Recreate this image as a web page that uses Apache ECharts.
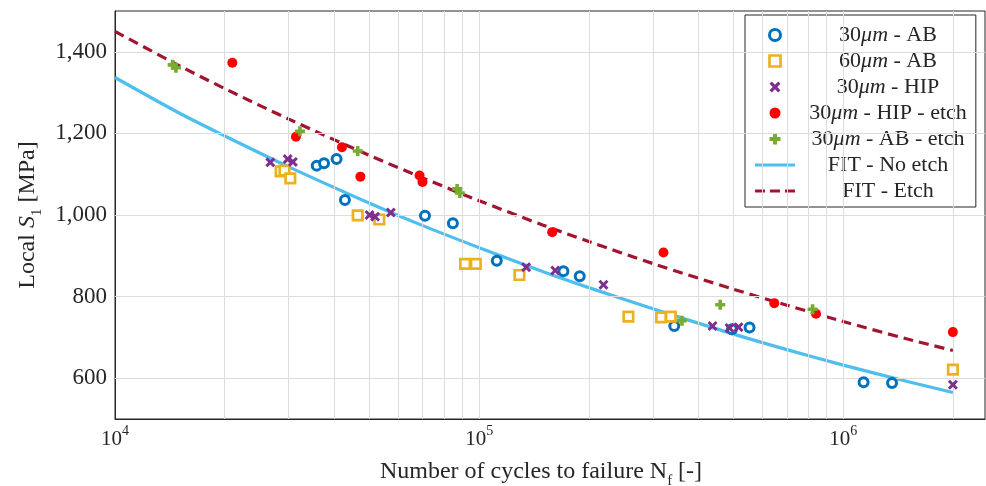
<!DOCTYPE html>
<html>
<head>
<meta charset="utf-8">
<script src="https://cdn.jsdelivr.net/npm/echarts@6/dist/echarts.min.js"></script>
<style>html,body{margin:0;padding:0;background:#fff}#c{width:986px;height:486px}</style>
</head>
<body>
<div id="c"></div>
<script>
// ---- data ----
const seriesNames = ['30μm - AB', '60μm - AB', '30μm - HIP', '30μm - HIP - etch', '30μm - AB - etch', 'FIT - No etch', 'FIT - Etch'];

const ab30N = [35800, 37500, 40600, 42800, 71000, 84700, 111800, 170400, 188900, 343400, 494600, 552800, 1137000, 1361000];
const ab30S = [1121, 1127, 1137, 1037, 998, 980, 888, 862, 850, 728, 720, 724, 590, 588];

const ab60N = [28500, 29200, 30300, 46400, 53200, 91500, 97900, 129000, 257000, 316000, 336000, 2000000];
const ab60S = [1107, 1109, 1090, 999, 989, 880, 880, 853, 751, 749, 751, 621];

const hip30N = [26700, 29800, 30800, 50000, 51800, 57200, 134600, 161800, 219500, 437500, 487100, 515700, 2000000];
const hip30S = [1129, 1137, 1130, 1000, 996, 1006, 872, 864, 829, 728, 723, 725, 584];

const hipEtchN = [21000, 31400, 42000, 47200, 68600, 69900, 158700, 320800, 646300, 841400, 2000000];
const hipEtchS = [1373, 1192, 1166, 1094, 1097, 1081, 958, 908, 784, 758, 713];

const abEtchN = [14400, 14700, 32200, 46400, 87000, 88500, 360500, 459200, 823600];
const abEtchS = [1368, 1361, 1205, 1157, 1064, 1054, 741, 780, 769];

const fitN = [10000, 15000, 20000, 30000, 50000, 70000, 100000, 150000, 200000, 300000, 500000, 700000, 1000000, 1500000, 2000000];
const fitNoEtchS = [1337, 1250, 1194, 1118, 1029, 974, 920, 861, 822, 770, 708, 670, 632, 592, 565];
const fitEtchS = [1450, 1366, 1310, 1235, 1146, 1091, 1035, 975, 935, 881, 818, 779, 739, 696, 668];

const xGridValues = [20000, 30000, 40000, 50000, 60000, 70000, 80000, 90000, 100000,
  200000, 300000, 400000, 500000, 600000, 700000, 800000, 900000, 1000000, 2000000];
const yGridValues = [600, 800, 1000, 1200, 1400];

// ---- styling ----
const FONT = 'Liberation Serif';
const TXT = '#262626';
const GRIDC = '#dcdcdc';
const plusPath = 'path://M3.2,0H6.8V3.2H10V6.8H6.8V10H3.2V6.8H0V3.2H3.2Z';
const xPath = 'path://M0,2.1L2.1,0L5,2.9L7.9,0L10,2.1L7.1,5L10,7.9L7.9,10L5,7.1L2.1,10L0,7.9L2.9,5Z';
const squarePath = 'path://M0,0H10V10H0Z';
const solidIcon = 'path://M0,0H40V3H0Z';
const dashIcon = 'path://M0,0H10V3H0Z M15,0H25V3H15Z M30,0H40V3H30Z';

function pairs(xs, ys) { return xs.map((x, i) => [x, ys[i]]); }

const chart = echarts.init(document.getElementById('c'), null, {renderer: 'canvas'});

const legendRichName = function (name) {
  const parts = name.split('μm');
  if (parts.length === 2) return '{n|' + parts[0] + '}{i|μm}{n|' + parts[1] + '}';
  return '{n|' + name + '}';
};

const legendIcons = ['circle', squarePath, xPath, 'circle', plusPath, solidIcon, dashIcon];
const legendItemStyles = [
  {color: '#ffffff', borderColor: '#0072bd', borderWidth: 3},
  {color: '#ffffff', borderColor: '#edb120', borderWidth: 2.7},
  null, null, null, null, null
];

const option = {
  animation: false,
  backgroundColor: '#fff',
  grid: {left: 115, top: 11, width: 870, height: 408, show: true, borderColor: TXT, borderWidth: 1,
    backgroundColor: 'transparent', containLabel: false, outerBoundsMode: 'none'},
  legend: {
    data: seriesNames.map((n, i) => {
      const d = {name: n, icon: legendIcons[i]};
      if (legendItemStyles[i]) d.itemStyle = legendItemStyles[i];
      return d;
    }),
    orient: 'vertical',
    left: 745, top: 15,
    padding: [9, 9, 5, 10],
    itemGap: 4,
    itemWidth: 40,
    itemHeight: 11,
    symbolKeepAspect: true,
    backgroundColor: '#fff',
    borderColor: TXT,
    borderWidth: 1,
    borderRadius: 0,
    formatter: legendRichName,
    textStyle: {
      color: TXT, fontFamily: FONT, fontSize: 22, width: 176,
      rich: {
        n: {align: 'center', fontFamily: FONT, fontSize: 22, lineHeight: 20, color: TXT},
        i: {align: 'center', fontFamily: FONT, fontStyle: 'italic', fontSize: 22, lineHeight: 20, color: TXT}
      }
    }
  },
  xAxis: {
    type: 'log', logBase: 10, min: 10000, max: 2450000,
    name: '{n|Number of cycles to failure N}{sub|f}{n| [-]}',
    nameLocation: 'middle', nameGap: 41,
    nameTextStyle: {
      color: TXT, fontFamily: FONT, fontSize: 24, padding: [0, 18, 0, 0],
      rich: {
        n: {fontFamily: FONT, fontSize: 24, lineHeight: 27, verticalAlign: 'top', color: TXT},
        sub: {fontFamily: FONT, fontSize: 15, lineHeight: 15, padding: [14, 0, 0, 0], verticalAlign: 'top', color: TXT}
      }
    },
    axisLine: {show: true, lineStyle: {color: TXT, width: 1}},
    axisTick: {show: false},
    splitLine: {show: false},
    minorTick: {show: false},
    axisLabel: {
      margin: 5, color: TXT, showMaxLabel: false,
      formatter: function (v) {
        const e = Math.log10(v);
        if (Math.abs(e - Math.round(e)) > 1e-6) return '';
        return '{b|10}{s|' + Math.round(e) + '}';
      },
      rich: {
        b: {fontFamily: FONT, fontSize: 21, lineHeight: 26, verticalAlign: 'bottom', color: TXT},
        s: {fontFamily: FONT, fontSize: 14, lineHeight: 14, verticalAlign: 'top', color: TXT}
      }
    }
  },
  yAxis: {
    type: 'value', min: 500, max: 1500, interval: 100,
    name: '{n|Local }{i|S}{sub|1}{n| [MPa]}',
    nameLocation: 'middle', nameGap: 72, nameRotate: 90,
    nameTextStyle: {
      color: TXT, fontFamily: FONT, fontSize: 24,
      rich: {
        n: {fontFamily: FONT, fontSize: 24, lineHeight: 27, verticalAlign: 'top', color: TXT},
        i: {fontFamily: FONT, fontStyle: 'italic', fontSize: 24, lineHeight: 27, verticalAlign: 'top', color: TXT},
        sub: {fontFamily: FONT, fontSize: 15, lineHeight: 15, padding: [14, 0, 0, 0], verticalAlign: 'top', color: TXT}
      }
    },
    axisLine: {show: true, lineStyle: {color: TXT, width: 1}},
    axisTick: {show: false},
    splitLine: {show: false},
    axisLabel: {
      margin: 8, color: TXT, fontFamily: FONT, fontSize: 23,
      formatter: function (v) { return (v % 200 === 0) ? v.toLocaleString('en-US') : ''; }
    }
  },
  series: [
    {
      type: 'line', name: '_grid', data: [], z: 0, silent: true,
      markLine: {
        silent: true, symbol: ['none', 'none'], animation: false,
        label: {show: false},
        lineStyle: {color: GRIDC, width: 1, type: 'solid'},
        emphasis: {disabled: true},
        data: xGridValues.map(v => ({xAxis: v})).concat(yGridValues.map(v => ({yAxis: v})))
      }
    },
    {
      type: 'line', name: seriesNames[5], data: pairs(fitN, fitNoEtchS), z: 3,
      showSymbol: false, symbol: 'none', smooth: 0.3,
      lineStyle: {color: '#4dbeee', width: 3.2}, itemStyle: {color: '#4dbeee'}
    },
    {
      type: 'line', name: seriesNames[6], data: pairs(fitN, fitEtchS), z: 3,
      showSymbol: false, symbol: 'none', smooth: 0.3,
      lineStyle: {color: '#a2142f', width: 3.2, type: [10, 6]}, itemStyle: {color: '#a2142f'}
    },
    {
      type: 'scatter', name: seriesNames[0], data: pairs(ab30N, ab30S), z: 5,
      symbol: 'circle', symbolSize: 9,
      itemStyle: {color: '#ffffff', borderColor: '#0072bd', borderWidth: 3, opacity: 1}
    },
    {
      type: 'scatter', name: seriesNames[1], data: pairs(ab60N, ab60S), z: 5,
      symbol: squarePath, symbolSize: 9.5,
      itemStyle: {color: '#ffffff', borderColor: '#edb120', borderWidth: 2.7, opacity: 1}
    },
    {
      type: 'scatter', name: seriesNames[2], data: pairs(hip30N, hip30S), z: 5,
      symbol: xPath, symbolSize: 10,
      itemStyle: {color: '#7e2f8e', opacity: 1}
    },
    {
      type: 'scatter', name: seriesNames[3], data: pairs(hipEtchN, hipEtchS), z: 5,
      symbol: 'circle', symbolSize: 10,
      itemStyle: {color: '#ff0000', opacity: 1}
    },
    {
      type: 'scatter', name: seriesNames[4], data: pairs(abEtchN, abEtchS), z: 5,
      symbol: plusPath, symbolSize: 10,
      itemStyle: {color: '#77ac30', opacity: 1}
    }
  ]
};
chart.setOption(option);
</script>
</body>
</html>
